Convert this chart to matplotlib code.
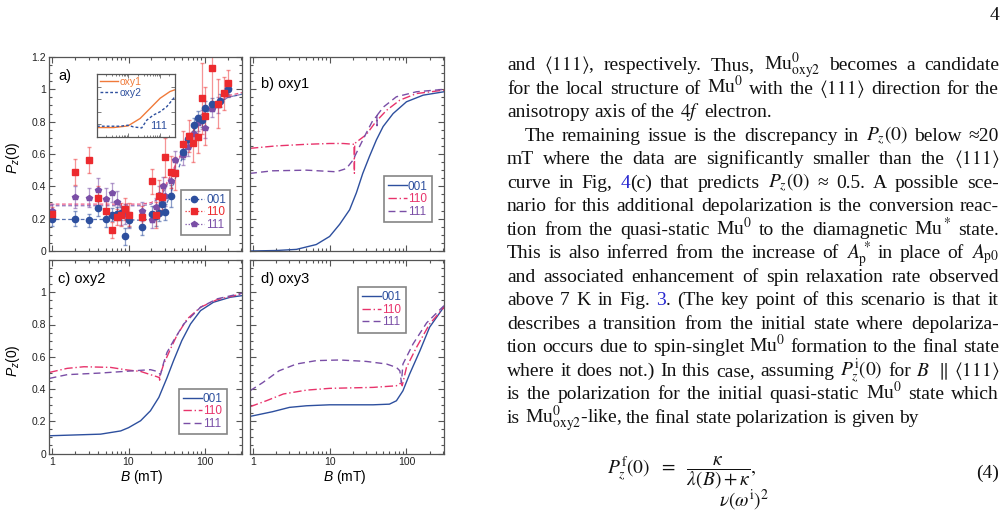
import numpy as np
import matplotlib
matplotlib.use("Agg")
import matplotlib.pyplot as plt
from matplotlib.lines import Line2D
from matplotlib.ticker import MultipleLocator, LogLocator, FuncFormatter, NullFormatter

W, H = 1004, 513

BLUE = "#2d4f9e"
RED = "#ec2a2e"
PINK = "#e8336b"
PURPLE = "#7a4ea6"
ORANGE = "#f07a3a"
LINK = "#2626d0"

# ---- panel a: measured P_z(0) ----
b001 = [1, 2, 3, 4, 5, 6.1, 7.1, 8, 8.9, 10.1, 15.1, 20.5, 23, 25, 27.5, 30, 36,
        52, 61, 73, 82, 91, 102, 126, 160, 204]
p001 = [0.20, 0.20, 0.19, 0.265, 0.196, 0.225, 0.23, 0.234, 0.09, 0.19, 0.15, 0.23, 0.215,
        0.234, 0.29, 0.24, 0.34, 0.61, 0.69, 0.78, 0.825, 0.81, 0.887, 0.907, 0.93, 1.0]
e001 = [0.045, 0.045, 0.04, 0.05, 0.05, 0.04, 0.04, 0.04, 0.05, 0.04, 0.05, 0.05, 0.06,
        0.05, 0.05, 0.05, 0.07, 0.04, 0.04, 0.04, 0.04, 0.04, 0.04, 0.04, 0.04, 0.03]

b110 = [1, 2, 3, 4, 5, 6, 7, 7.9, 9, 10.1, 15, 20.5, 23, 25, 27.5, 30, 36, 41,
        52, 62, 70, 82, 91, 102, 126, 150, 178, 204]
p110 = [0.23, 0.49, 0.565, 0.33, 0.25, 0.13, 0.21, 0.225, 0.26, 0.225, 0.21, 0.43, 0.225,
        0.34, 0.335, 0.58, 0.49, 0.48, 0.66, 0.71, 0.67, 0.705, 0.945, 0.835, 1.13, 0.912,
        0.975, 1.04]
e110 = [0.04, 0.08, 0.08, 0.07, 0.06, 0.05, 0.05, 0.07, 0.07, 0.07, 0.07, 0.08, 0.08,
        0.10, 0.08, 0.12, 0.10, 0.10, 0.08, 0.10, 0.12, 0.10, 0.22, 0.18, 0.22, 0.15,
        0.10, 0.08]

b111 = [1, 2, 3, 4, 5, 6, 7, 8, 9, 10.1, 15, 20.5, 23, 25, 28, 30, 36, 41,
        52, 61, 73, 82, 91, 102, 126, 150, 204]
p111 = [0.25, 0.335, 0.33, 0.38, 0.32, 0.36, 0.30, 0.22, 0.23, 0.19, 0.245, 0.19, 0.27,
        0.345, 0.40, 0.34, 0.43, 0.56, 0.595, 0.645, 0.725, 0.79, 0.815, 0.76, 0.88, 0.905, 1.0]
e111 = [0.04, 0.07, 0.06, 0.07, 0.07, 0.06, 0.07, 0.06, 0.06, 0.05, 0.06, 0.05, 0.06,
        0.06, 0.06, 0.06, 0.07, 0.06, 0.06, 0.06, 0.06, 0.05, 0.06, 0.06, 0.05, 0.05, 0.05]

# fitted curves in panel a
fit_b = [0.92, 2, 5, 10, 15, 20, 25, 30, 35, 40, 50, 60, 70, 88, 130, 200, 308]
fit001 = [0.195, 0.195, 0.195, 0.193, 0.19, 0.20, 0.225, 0.27, 0.34, 0.43, 0.57, 0.67,
          0.74, 0.81, 0.90, 0.95, 0.97]
fit110 = [0.29, 0.29, 0.29, 0.29, 0.29, 0.30, 0.33, 0.40, 0.46, 0.52, 0.61, 0.69, 0.75,
          0.835, 0.91, 0.96, 0.98]
fit111 = [0.28, 0.28, 0.28, 0.28, 0.28, 0.29, 0.33, 0.38, 0.45, 0.51, 0.60, 0.68, 0.74,
          0.80, 0.89, 0.95, 0.97]

# inset of panel a (111 field direction)
ins_b1 = [1, 3.37, 9.6, 23.4, 48.8, 101, 208, 300]
ins_oxy1 = [0.15, 0.15, 0.176, 0.294, 0.455, 0.615, 0.722, 0.75]
ins_b2 = [1, 5.5, 9.6, 14.4, 26.3, 38, 61.6, 101, 163, 300]
ins_oxy2 = [0.171, 0.171, 0.187, 0.16, 0.144, 0.267, 0.348, 0.401, 0.48, 0.64]

# ---- panel b: oxy1 ----
b_b001 = [0.92, 2, 3.7, 6.7, 10, 13.5, 18.2, 22.3, 27, 33, 40.6, 49.7, 67, 100, 165, 308]
b_p001 = [0.0, 0.003, 0.01, 0.04, 0.09, 0.165, 0.255, 0.36, 0.48, 0.585, 0.687, 0.77,
          0.85, 0.923, 0.964, 0.985]
b_b110 = [0.92, 2, 5, 10, 15, 20.8, 21.0, 21.2, 24, 30, 40, 55, 82, 135, 308]
b_p110 = [0.635, 0.65, 0.66, 0.665, 0.665, 0.66, 0.48, 0.665, 0.685, 0.72, 0.80, 0.87,
          0.933, 0.974, 0.995]
b_b111 = [0.92, 1.8, 5, 12.2, 16.5, 20, 24.5, 30, 36.7, 41.2, 41.4, 41.6, 50, 74, 135, 308]
b_p111 = [0.48, 0.496, 0.50, 0.49, 0.51, 0.56, 0.646, 0.73, 0.81, 0.835, 0.775, 0.84,
          0.89, 0.954, 0.985, 1.0]

# ---- panel c: oxy2 ----
c_b001 = [0.92, 4.3, 7.9, 10, 14.4, 19.4, 25, 32, 39, 50, 65, 88, 130, 216, 308]
c_p001 = [0.11, 0.12, 0.14, 0.16, 0.203, 0.265, 0.348, 0.47, 0.576, 0.70, 0.803, 0.886,
          0.938, 0.969, 0.979]
c_b110 = [0.92, 1.57, 2.6, 5.8, 9.6, 14.4, 19.4, 23.7, 25.5, 25.6, 25.7, 29, 35.5, 43,
          58.7, 88, 145, 308]
c_p110 = [0.503, 0.528, 0.538, 0.534, 0.518, 0.509, 0.489, 0.476, 0.47, 0.455, 0.48,
          0.555, 0.648, 0.731, 0.834, 0.907, 0.954, 0.99]
c_b111 = [0.92, 1.57, 4.3, 11.7, 19.4, 23.7, 26.3, 29, 32, 39, 53, 88, 145, 308]
c_p111 = [0.466, 0.489, 0.499, 0.513, 0.52, 0.509, 0.489, 0.565, 0.627, 0.70, 0.803,
          0.907, 0.959, 0.994]

# ---- panel d: oxy3 ----
d_b001 = [0.92, 1.8, 3, 5, 10, 36.7, 60, 74, 90, 110, 150, 200, 308]
d_p001 = [0.23, 0.259, 0.286, 0.296, 0.302, 0.302, 0.306, 0.327, 0.389, 0.493, 0.638,
          0.783, 0.91]
d_b110 = [0.92, 1.5, 2.5, 5, 10, 36.7, 74, 83, 87.5, 88, 100, 135, 200, 308]
d_p110 = [0.29, 0.327, 0.369, 0.393, 0.404, 0.41, 0.42, 0.435, 0.43, 0.42, 0.534, 0.658,
          0.803, 0.907]
d_b111 = [0.92, 1.35, 2.2, 3.7, 6.7, 13.5, 30, 55, 74, 82, 86, 90, 122, 183, 308]
d_p111 = [0.389, 0.44, 0.513, 0.555, 0.576, 0.58, 0.571, 0.555, 0.534, 0.513, 0.44,
          0.555, 0.68, 0.81, 0.917]

legend_labels = ["001", "110", "111"]

# ---- right-hand text column ----
text_lines = [
    r"and $\langle111\rangle$, respectively. Thus, Mu$^0_{\mathrm{oxy2}}$ becomes a candidate",
    r"for the local structure of Mu$^0$ with the $\langle111\rangle$ direction for the",
    r"anisotropy axis of the $4f$ electron.",
    r"The remaining issue is the discrepancy in $P_z(0)$ below ≈20",
    r"mT where the data are significantly smaller than the $\langle111\rangle$",
    r"curve in Fig, @4@(c) that predicts $P_z(0)$ ≈ 0.5. A possible sce-",
    r"nario for this additional depolarization is the conversion reac-",
    r"tion from the quasi-static Mu$^0$ to the diamagnetic Mu$^*$ state.",
    r"This is also inferred from the increase of $A^*_{\mathrm{p}}$ in place of $A_{\mathrm{p0}}$",
    r"and associated enhancement of spin relaxation rate observed",
    r"above 7 K in Fig. @3@. (The key point of this scenario is that it",
    r"describes a transition from the initial state where depolariza-",
    r"tion occurs due to spin-singlet Mu$^0$ formation to the final state",
    r"where it does not.) In this case, assuming $P^{\mathrm{i}}_z(0)$ for $B$ $\parallel$ $\langle111\rangle$",
    r"is the polarization for the initial quasi-static Mu$^0$ state which",
    r"is Mu$^0_{\mathrm{oxy2}}$-like, the final state polarization is given by",
]
par_start = [3]
par_end = [2, 15]
equation = r"$P_z^{\mathrm{f}}(0)\ \ =\ \ \dfrac{\kappa}{\lambda(B)+\kappa},$"


plt.rcParams["font.family"] = ["Liberation Sans", "DejaVu Sans"]
plt.rcParams["mathtext.fontset"] = "custom"
plt.rcParams["mathtext.rm"] = "Liberation Sans"
plt.rcParams["mathtext.it"] = "Liberation Sans:italic"
plt.rcParams["mathtext.bf"] = "Liberation Sans:bold"

fig = plt.figure(figsize=(W / 100, H / 100), dpi=100)


def px_rect(l, t, r, b):
    return [l / W, 1 - b / H, (r - l) / W, (b - t) / H]


def style_axes(ax, ylabels, xlabels, top_label=True):
    ax.set_xscale("log")
    ax.set_xlim(0.92, 308)
    ax.set_ylim(0, 1.2)
    ax.yaxis.set_major_locator(MultipleLocator(0.2))
    ax.yaxis.set_minor_locator(MultipleLocator(0.05))
    ax.xaxis.set_major_locator(LogLocator(10, numticks=10))
    ax.xaxis.set_minor_locator(LogLocator(10, subs=np.arange(2, 10), numticks=10))
    ax.tick_params(which="both", direction="in", top=True, right=True,
                   color="#555555", labelcolor="#222222", labelsize=7.5, width=0.8, pad=2.5)
    ax.tick_params(which="major", length=4)
    ax.tick_params(which="minor", length=2.2)
    for s in ax.spines.values():
        s.set_color("#555555")
        s.set_linewidth(0.9)
    if ylabels:
        ax.yaxis.set_major_formatter(FuncFormatter(
            lambda v, p: "" if (v > 1.1 and not top_label) else f"{v:g}"))
    else:
        ax.yaxis.set_major_formatter(NullFormatter())
    if xlabels:
        ax.xaxis.set_major_formatter(FuncFormatter(lambda v, p: f"{v:g}"))
    else:
        ax.xaxis.set_major_formatter(NullFormatter())
    ax.xaxis.set_minor_formatter(NullFormatter())


def curve_legend(ax, loc, anchor):
    handles = [Line2D([], [], color=BLUE, lw=1.0),
               Line2D([], [], color=PINK, lw=1.0, ls=(0, (6, 2, 1, 2))),
               Line2D([], [], color=PURPLE, lw=1.0, ls=(0, (5, 3)))]
    leg = ax.legend(handles, legend_labels, loc=loc, bbox_to_anchor=anchor,
                    fontsize=8.5, labelcolor=[BLUE, PINK, PURPLE], frameon=True,
                    fancybox=False, handlelength=1.6, handletextpad=0.1,
                    labelspacing=0.05, borderpad=0.35, borderaxespad=0)
    leg.get_frame().set_edgecolor("#666666")
    leg.get_frame().set_linewidth(1.2)


# panel a
ax_a = fig.add_axes(px_rect(49.5, 57, 242, 251))
style_axes(ax_a, True, False)
ax_a.plot(fit_b, fit111, color=PURPLE, lw=0.9, ls=(0, (3, 2)), alpha=0.8)
ax_a.plot(fit_b, fit110, color=PINK, lw=0.9, ls=(0, (3, 2)), alpha=0.8)
ax_a.plot(fit_b, fit001, color=BLUE, lw=0.9, ls=(0, (3, 2)), alpha=0.8)
ax_a.errorbar(b111, p111, yerr=e111, fmt="p", color=PURPLE, ms=4, elinewidth=0.9,
              ecolor=(0.48, 0.31, 0.65, 0.55), capsize=1.5)
ax_a.errorbar(b001, p001, yerr=e001, fmt="o", color=BLUE, ms=4.5, elinewidth=0.9,
              ecolor=(0.18, 0.31, 0.62, 0.55), capsize=1.5)
ax_a.errorbar(b110, p110, yerr=e110, fmt="s", color=RED, ms=4.5, elinewidth=0.9,
              ecolor=(0.93, 0.17, 0.18, 0.5), capsize=1.5)
ax_a.text(0.045, 0.9, "a)", transform=ax_a.transAxes, fontsize=10.5, va="center")
handles_a = [Line2D([], [], color=BLUE, lw=0.9, ls=(0, (1, 1.5)), marker="o", ms=4.5),
             Line2D([], [], color=RED, lw=0.9, ls=(0, (1, 1.5)), marker="s", ms=4.5),
             Line2D([], [], color=PURPLE, lw=0.9, ls=(0, (1, 1.5)), marker="p", ms=4)]
leg = ax_a.legend(handles_a, legend_labels, loc="lower right", bbox_to_anchor=(0.938, 0.082),
                  fontsize=8.5, labelcolor=[BLUE, RED, PURPLE], fancybox=False,
                  handlelength=1.6, handletextpad=0.2, labelspacing=0.05,
                  borderpad=0.35, borderaxespad=0)
leg.get_frame().set_edgecolor("#666666")
leg.get_frame().set_linewidth(1.2)

# inset
ax_in = fig.add_axes(px_rect(97, 74, 175, 137))
ax_in.set_xscale("log")
ax_in.set_xlim(1, 300)
ax_in.set_ylim(0, 1)
ax_in.plot(ins_b1, ins_oxy1, color=ORANGE, lw=1.0, label="oxy1")
ax_in.plot(ins_b2, ins_oxy2, color=BLUE, lw=1.0, ls=(0, (2, 1.5)), label="oxy2")
ax_in.tick_params(which="both", direction="in", top=True, right=True, color="#666666",
                  labelbottom=False, labelleft=False, width=0.6)
ax_in.tick_params(which="major", length=3)
ax_in.tick_params(which="minor", length=1.6)
ax_in.yaxis.set_major_locator(MultipleLocator(0.2))
for s in ax_in.spines.values():
    s.set_color("#555555")
    s.set_linewidth(0.9)
ax_in.text(0.9, 0.18, "111", color=BLUE, fontsize=8, ha="right", va="center",
           transform=ax_in.transAxes)
ax_in.legend(loc="upper left", fontsize=7.5, frameon=False, labelcolor=[ORANGE, BLUE],
             handlelength=1.7, handletextpad=0.2, labelspacing=0.05, borderpad=0.2,
             borderaxespad=0.1)

# panel b
ax_b = fig.add_axes(px_rect(250, 57, 444, 251))
style_axes(ax_b, False, False)
ax_b.plot(b_b001, b_p001, color=BLUE, lw=1.0)
ax_b.plot(b_b110, b_p110, color=PINK, lw=1.0, ls=(0, (6, 2, 1, 2)))
ax_b.plot(b_b111, b_p111, color=PURPLE, lw=1.0, ls=(0, (5, 3)))
ax_b.text(0.055, 0.86, "b) oxy1", transform=ax_b.transAxes, fontsize=10.5, va="center")
curve_legend(ax_b, "lower right", (0.938, 0.15))

# panel c
ax_c = fig.add_axes(px_rect(49.5, 260, 242, 453.5))
style_axes(ax_c, True, True, top_label=False)
ax_c.plot(c_b001, c_p001, color=BLUE, lw=1.0)
ax_c.plot(c_b110, c_p110, color=PINK, lw=1.0, ls=(0, (6, 2, 1, 2)))
ax_c.plot(c_b111, c_p111, color=PURPLE, lw=1.0, ls=(0, (5, 3)))
ax_c.text(0.045, 0.9, "c) oxy2", transform=ax_c.transAxes, fontsize=10.5, va="center")
curve_legend(ax_c, "lower right", (0.922, 0.10))

# panel d
ax_d = fig.add_axes(px_rect(250, 260, 444, 453.5))
style_axes(ax_d, False, True)
ax_d.plot(d_b001, d_p001, color=BLUE, lw=1.0)
ax_d.plot(d_b110, d_p110, color=PINK, lw=1.0, ls=(0, (6, 2, 1, 2)))
ax_d.plot(d_b111, d_p111, color=PURPLE, lw=1.0, ls=(0, (5, 3)))
ax_d.text(0.055, 0.9, "d) oxy3", transform=ax_d.transAxes, fontsize=10.5, va="center")
curve_legend(ax_d, "upper right", (0.804, 0.86))

# axis labels
for yc in (158, 361):
    fig.text(13 / W, 1 - yc / H, r"$P_z(0)$", rotation=90, ha="center", va="center",
             fontsize=10)
for xc in (142, 345):
    fig.text(xc / W, 1 - 477 / H, r"$B$ (mT)", ha="center", va="center", fontsize=10)

# ---- text column, justified like the page ----
renderer = fig.canvas.get_renderer()
TXT = dict(fontsize=14, family=["Liberation Serif", "DejaVu Serif"],
           math_fontfamily="stix", va="baseline")
x_left, x_right = 507, 999
space = 4.6
for i, line in enumerate(text_lines):
    yb = 1 - (70 + 23.53 * i) / H
    x0 = 525 if i in par_start else x_left
    words = []
    for w in line.split(" "):
        pieces = []
        for k, s in enumerate(w.split("@")):
            if not s:
                continue
            t = fig.text(0, yb, s, color=LINK if k % 2 else "#111111", **TXT)
            pieces.append((t, t.get_window_extent(renderer).width))
        words.append(pieces)
    widths = [sum(p[1] for p in wd) for wd in words]
    if i in par_end or len(words) < 2:
        gap = space
    else:
        gap = (x_right - x0 - sum(widths)) / (len(words) - 1)
    x = x0
    for wd, wsum in zip(words, widths):
        xp = x
        for t, wpc in wd:
            t.set_x(xp / W)
            xp += wpc
        x += wsum + gap

fig.text(999 / W, 1 - 20 / H, "4", ha="right", color="#111111", **TXT)
fig.text(607 / W, 1 - 473 / H, equation, ha="left", color="#111111", **TXT)
fig.text(999 / W, 1 - 478 / H, "(4)", ha="right", color="#111111", **TXT)
fig.text(744 / W, 1 - 507 / H, r"$\nu(\omega^{\mathrm{i}})^2$", ha="center",
         color="#111111", **TXT)

fig.savefig("out.png", dpi=100)
